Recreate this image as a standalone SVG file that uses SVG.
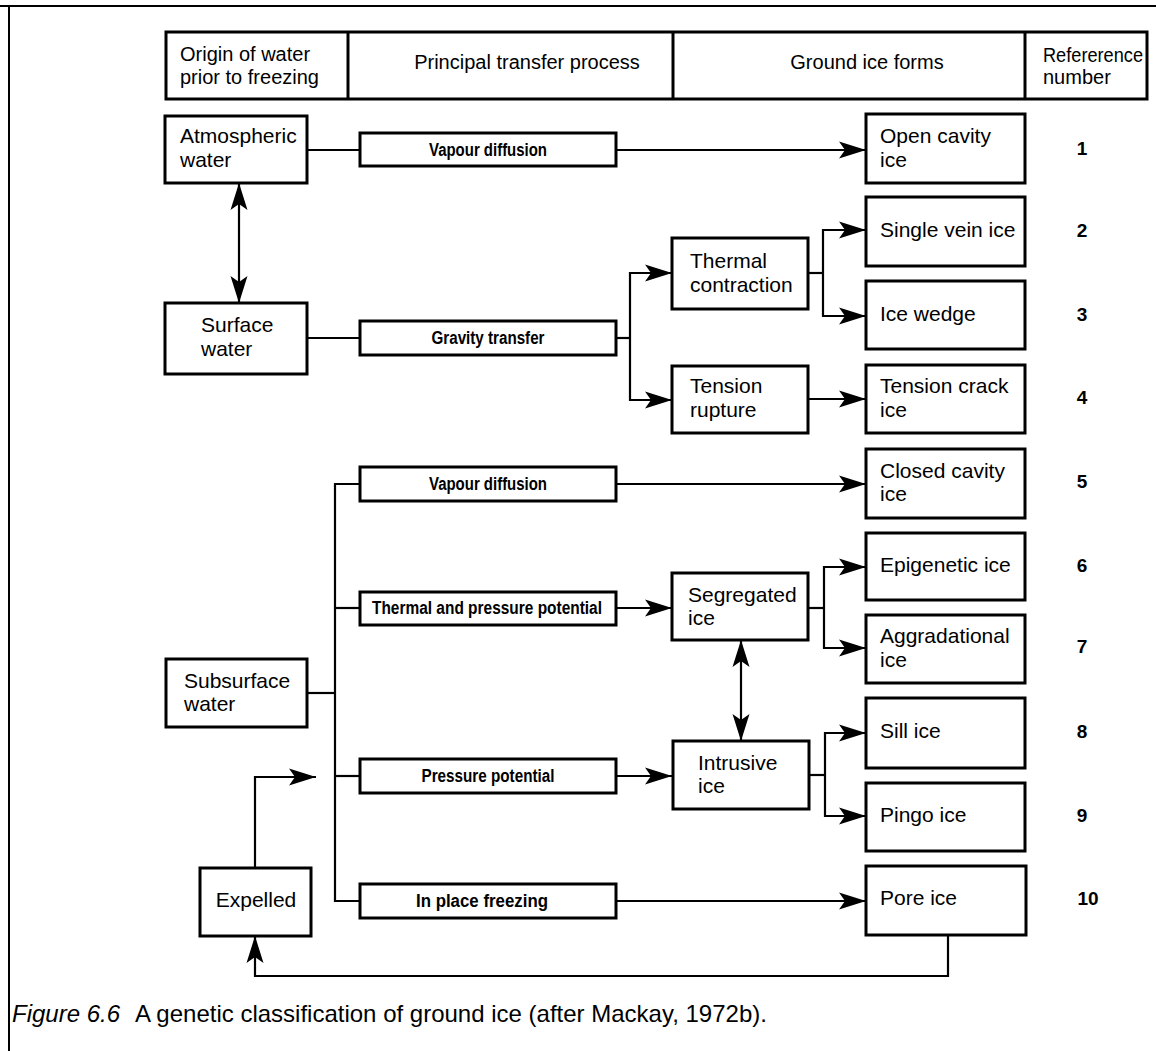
<svg xmlns="http://www.w3.org/2000/svg" width="1156" height="1051" viewBox="0 0 1156 1051">
<style>
.bx{fill:#fff;stroke:#000;stroke-width:3}
.ln{fill:none;stroke:#000;stroke-width:2.2}
.t{font-family:"Liberation Sans",Arial,Helvetica,sans-serif;font-size:21px;fill:#000}
.p{font-family:"Liberation Sans Narrow","Liberation Sans",Arial,sans-serif;font-weight:bold;font-size:18px;text-anchor:middle;fill:#000}
.n{font-family:"Liberation Sans",Arial,sans-serif;font-weight:bold;font-size:19px;text-anchor:middle;fill:#000}
.h{font-family:"Liberation Sans",Arial,sans-serif;font-size:20px;fill:#000}
.c{font-family:"Liberation Sans",Arial,sans-serif;font-size:24px;fill:#000}
</style>
<defs>
<marker id="ar" markerUnits="userSpaceOnUse" markerWidth="30" markerHeight="20" refX="27" refY="9" orient="auto-start-reverse">
<path d="M0,0.5 L27,9 L0,17.5 L6,9 z" fill="#000"/>
</marker>
</defs>
<rect x="0" y="0" width="1156" height="1051" fill="#fff"/>
<g id="frame" fill="none" stroke="#000" stroke-width="2">
<line x1="0" y1="6" x2="1156" y2="6"/>
<line x1="9" y1="6" x2="9" y2="1051"/>
</g>
<g id="header">
<rect class="bx" x="166" y="32" width="981" height="67"/>
<line x1="348" y1="32" x2="348" y2="99" stroke="#000" stroke-width="3"/>
<line x1="673" y1="32" x2="673" y2="99" stroke="#000" stroke-width="3"/>
<line x1="1025" y1="32" x2="1025" y2="99" stroke="#000" stroke-width="3"/>
<text class="h" x="180" y="61">Origin of water</text>
<text class="h" x="180" y="84">prior to freezing</text>
<text class="h" x="527" y="69" text-anchor="middle">Principal transfer process</text>
<text class="h" x="867" y="69" text-anchor="middle">Ground ice forms</text>
<text class="h" x="1043" y="62" font-size="16" textLength="100" lengthAdjust="spacingAndGlyphs">Refererence</text>
<text class="h" x="1043" y="84" font-size="16">number</text>
</g>
<g id="connectors">
<line class="ln" x1="307" y1="150" x2="360" y2="150"/>
<line class="ln" x1="616" y1="150" x2="866" y2="150" marker-end="url(#ar)"/>
<line class="ln" x1="239" y1="183" x2="239" y2="303" marker-start="url(#ar)" marker-end="url(#ar)"/>
<line class="ln" x1="307" y1="338" x2="360" y2="338"/>
<polyline class="ln" points="616,338 630,338"/>
<polyline class="ln" points="672,273 630,273 630,400 672,400" marker-start="url(#ar)" marker-end="url(#ar)"/>
<polyline class="ln" points="808,273 823,273"/>
<polyline class="ln" points="866,230 823,230 823,316 866,316" marker-start="url(#ar)" marker-end="url(#ar)"/>
<line class="ln" x1="808" y1="399" x2="866" y2="399" marker-end="url(#ar)"/>
<line class="ln" x1="307" y1="693" x2="335" y2="693"/>
<polyline class="ln" points="360,484 335,484 335,901 360,901"/>
<line class="ln" x1="335" y1="608" x2="360" y2="608"/>
<line class="ln" x1="335" y1="776" x2="360" y2="776"/>
<line class="ln" x1="616" y1="484" x2="866" y2="484" marker-end="url(#ar)"/>
<line class="ln" x1="616" y1="608" x2="672" y2="608" marker-end="url(#ar)"/>
<polyline class="ln" points="808,608 824,608"/>
<polyline class="ln" points="866,567 824,567 824,648 866,648" marker-start="url(#ar)" marker-end="url(#ar)"/>
<line class="ln" x1="741" y1="640" x2="741" y2="741" marker-start="url(#ar)" marker-end="url(#ar)"/>
<line class="ln" x1="616" y1="776" x2="672" y2="776" marker-end="url(#ar)"/>
<polyline class="ln" points="809,775 825,775"/>
<polyline class="ln" points="866,733 825,733 825,816 866,816" marker-start="url(#ar)" marker-end="url(#ar)"/>
<line class="ln" x1="616" y1="901" x2="866" y2="901" marker-end="url(#ar)"/>
<polyline class="ln" points="948,935 948,976 255,976 255,936" marker-end="url(#ar)"/>
<polyline class="ln" points="255,868 255,777 316,777" marker-end="url(#ar)"/>
</g>
<g id="atmospheric">
<rect class="bx" x="165" y="116" width="142" height="67"/>
<text class="t" x="180" y="143">Atmospheric</text>
<text class="t" x="180" y="167">water</text>
</g>
<g id="surface">
<rect class="bx" x="165" y="303" width="142" height="71"/>
<text class="t" x="201" y="332">Surface</text>
<text class="t" x="201" y="356">water</text>
</g>
<g id="subsurface">
<rect class="bx" x="166" y="659" width="141" height="68"/>
<text class="t" x="184" y="688">Subsurface</text>
<text class="t" x="184" y="711">water</text>
</g>
<g id="expelled">
<rect class="bx" x="200" y="868" width="111" height="68"/>
<text class="t" x="256" y="907" text-anchor="middle">Expelled</text>
</g>
<g id="p1">
<rect class="bx" x="360" y="133" width="256" height="33"/>
<text class="p" x="488" y="156" textLength="118" lengthAdjust="spacingAndGlyphs">Vapour diffusion</text>
</g>
<g id="p2">
<rect class="bx" x="360" y="321" width="256" height="34"/>
<text class="p" x="488" y="344" textLength="113" lengthAdjust="spacingAndGlyphs">Gravity transfer</text>
</g>
<g id="p3">
<rect class="bx" x="360" y="467" width="256" height="34"/>
<text class="p" x="488" y="490" textLength="118" lengthAdjust="spacingAndGlyphs">Vapour diffusion</text>
</g>
<g id="p4">
<rect class="bx" x="360" y="592" width="256" height="33"/>
<text class="p" x="487" y="614" textLength="230" lengthAdjust="spacingAndGlyphs">Thermal and pressure potential</text>
</g>
<g id="p5">
<rect class="bx" x="360" y="759" width="256" height="34"/>
<text class="p" x="488" y="782" textLength="133" lengthAdjust="spacingAndGlyphs">Pressure potential</text>
</g>
<g id="p6">
<rect class="bx" x="360" y="884" width="256" height="34"/>
<text class="p" x="482" y="907" textLength="132" lengthAdjust="spacingAndGlyphs">In place freezing</text>
</g>
<g id="thermal">
<rect class="bx" x="672" y="238" width="136" height="71"/>
<text class="t" x="690" y="268">Thermal</text>
<text class="t" x="690" y="292">contraction</text>
</g>
<g id="tension">
<rect class="bx" x="672" y="366" width="136" height="67"/>
<text class="t" x="690" y="393">Tension</text>
<text class="t" x="690" y="417">rupture</text>
</g>
<g id="segregated">
<rect class="bx" x="672" y="573" width="136" height="67"/>
<text class="t" x="688" y="602">Segregated</text>
<text class="t" x="688" y="625">ice</text>
</g>
<g id="intrusive">
<rect class="bx" x="673" y="741" width="136" height="68"/>
<text class="t" x="698" y="770">Intrusive</text>
<text class="t" x="698" y="793">ice</text>
</g>
<g id="f1">
<rect class="bx" x="866" y="114" width="159" height="69"/>
<text class="t" x="880" y="143">Open cavity</text>
<text class="t" x="880" y="167">ice</text>
<text class="n" x="1082" y="155">1</text>
</g>
<g id="f2">
<rect class="bx" x="866" y="197" width="159" height="69"/>
<text class="t" x="880" y="237">Single vein ice</text>
<text class="n" x="1082" y="237">2</text>
</g>
<g id="f3">
<rect class="bx" x="866" y="281" width="159" height="68"/>
<text class="t" x="880" y="321">Ice wedge</text>
<text class="n" x="1082" y="321">3</text>
</g>
<g id="f4">
<rect class="bx" x="866" y="365" width="159" height="68"/>
<text class="t" x="880" y="393">Tension crack</text>
<text class="t" x="880" y="417">ice</text>
<text class="n" x="1082" y="404">4</text>
</g>
<g id="f5">
<rect class="bx" x="866" y="449" width="159" height="69"/>
<text class="t" x="880" y="478">Closed cavity</text>
<text class="t" x="880" y="501">ice</text>
<text class="n" x="1082" y="488">5</text>
</g>
<g id="f6">
<rect class="bx" x="866" y="533" width="159" height="67"/>
<text class="t" x="880" y="572">Epigenetic ice</text>
<text class="n" x="1082" y="572">6</text>
</g>
<g id="f7">
<rect class="bx" x="866" y="615" width="159" height="68"/>
<text class="t" x="880" y="643">Aggradational</text>
<text class="t" x="880" y="667">ice</text>
<text class="n" x="1082" y="653">7</text>
</g>
<g id="f8">
<rect class="bx" x="866" y="698" width="159" height="70"/>
<text class="t" x="880" y="738">Sill ice</text>
<text class="n" x="1082" y="738">8</text>
</g>
<g id="f9">
<rect class="bx" x="866" y="783" width="159" height="68"/>
<text class="t" x="880" y="822">Pingo ice</text>
<text class="n" x="1082" y="822">9</text>
</g>
<g id="f10">
<rect class="bx" x="866" y="866" width="160" height="69"/>
<text class="t" x="880" y="905">Pore ice</text>
<text class="n" x="1088" y="905">10</text>
</g>
<g id="caption">
<text class="c" x="12" y="1022" font-style="italic">Figure 6.6</text>
<text class="c" x="135" y="1022">A genetic classification of ground ice (after Mackay, 1972b).</text>
</g>
</svg>
